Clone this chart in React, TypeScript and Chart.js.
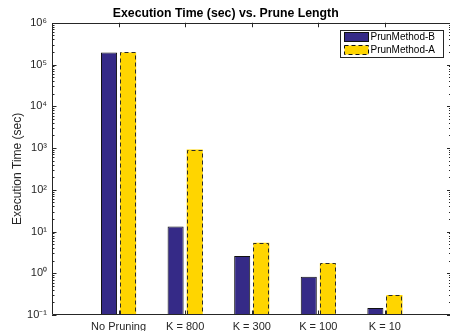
import React, { useEffect, useRef } from 'react';
import { Chart, registerables } from 'chart.js';

Chart.register(...registerables);

const categories = ['No Pruning', 'K = 800', 'K = 300', 'K = 100', 'K = 10'];
const seriesLabels = ['PrunMethod-B', 'PrunMethod-A'];
const methodB = [195000, 13.2, 2.58, 0.82, 0.147];
const methodA = [195000, 920, 5.37, 1.73, 0.3];
const yExponents = [-1, 0, 1, 2, 3, 4, 5, 6];
const titleText = 'Execution Time (sec) vs. Prune Length';
const yAxisTitle = 'Execution Time (sec)';

const colorB = '#352a87';
const colorA = '#ffd500';
const axisColor = '#262626';
const FONT = '"Liberation Sans", Arial, Helvetica, sans-serif';

const SUP: Record<string, string> = {
  '-': '\u207B', '0': '\u2070', '1': '\u00B9', '2': '\u00B2', '3': '\u00B3',
  '4': '\u2074', '5': '\u2075', '6': '\u2076', '7': '\u2077', '8': '\u2078', '9': '\u2079',
};
const supText = (n: number) => String(n).split('').map((c) => SUP[c]).join('');
const isDecade = (v: number) => Math.abs(Math.log10(v) - Math.round(Math.log10(v))) < 1e-9;

const matlabPlugin = {
  id: 'matlabAxes',
  beforeDatasetsDraw(chart: any) {
    const { ctx, chartArea } = chart;
    const { left, right, top, bottom } = chartArea;
    const ys = chart.scales.y;
    const xs = chart.scales.x;
    ctx.save();
    ctx.strokeStyle = axisColor;
    ctx.lineWidth = 1;
    ys.ticks.forEach((t: any) => {
      const py = Math.round(ys.getPixelForValue(t.value)) + 0.5;
      const len = isDecade(t.value) ? 4.5 : 2.5;
      ctx.beginPath();
      ctx.moveTo(left, py);
      ctx.lineTo(left + len, py);
      ctx.moveTo(right, py);
      ctx.lineTo(right - len, py);
      ctx.stroke();
    });
    categories.forEach((_, i) => {
      const px = Math.round(xs.getPixelForValue(i + 1)) + 0.5;
      ctx.beginPath();
      ctx.moveTo(px, top);
      ctx.lineTo(px, top + 4.5);
      ctx.moveTo(px, bottom);
      ctx.lineTo(px, bottom - 4.5);
      ctx.stroke();
    });
    ctx.restore();
  },
  afterDatasetsDraw(chart: any) {
    const { ctx, chartArea } = chart;
    const { left, right, top, bottom } = chartArea;
    ctx.save();
    // dashed outlines for method A bars
    const meta = chart.getDatasetMeta(1);
    ctx.strokeStyle = '#2a2a2a';
    ctx.lineWidth = 1;
    ctx.setLineDash([4, 3]);
    meta.data.forEach((el: any, i: number) => {
      const v = chart.data.datasets[1].data[i];
      if (v == null) return;
      const p = el.getProps(['x', 'y', 'base', 'width'], true);
      const x0 = Math.round(p.x - p.width / 2) + 0.5;
      const x1 = Math.round(p.x + p.width / 2) - 0.5;
      const y0 = Math.round(p.y) + 0.5;
      const y1 = Math.round(p.base) - 0.5;
      ctx.beginPath();
      ctx.moveTo(x0, y1);
      ctx.lineTo(x0, y0);
      ctx.lineTo(x1, y0);
      ctx.lineTo(x1, y1);
      ctx.stroke();
    });
    ctx.setLineDash([]);
    // axes box
    ctx.strokeStyle = axisColor;
    ctx.beginPath();
    const l = Math.round(left) + 0.5;
    const r = Math.round(right) - 0.5;
    const t = Math.round(top) + 0.5;
    const b = Math.round(bottom) - 0.5;
    ctx.rect(l, t, r - l, b - t);
    ctx.stroke();

    // legend
    const bx0 = 340.5, by0 = 30.5, bw = 103, bh = 27;
    ctx.fillStyle = '#ffffff';
    ctx.fillRect(bx0, by0, bw, bh);
    ctx.strokeStyle = axisColor;
    ctx.strokeRect(bx0, by0, bw, bh);
    const rows = [
      { label: chart.data.datasets[0].label, fill: colorB, dash: [] as number[], y: 32.5 },
      { label: chart.data.datasets[1].label, fill: colorA, dash: [4, 3], y: 45.5 },
    ];
    ctx.font = `10px ${FONT}`;
    ctx.textBaseline = 'middle';
    ctx.textAlign = 'left';
    rows.forEach((row) => {
      ctx.fillStyle = row.fill;
      ctx.fillRect(344.5, row.y, 24, 9);
      ctx.setLineDash(row.dash);
      ctx.strokeStyle = '#111';
      ctx.strokeRect(344.5, row.y, 24, 9);
      ctx.setLineDash([]);
      ctx.fillStyle = '#000';
      ctx.fillText(row.label, 370.5, row.y + 5);
    });
    ctx.restore();
  },
};

export default function App() {
  const canvasRef = useRef<HTMLCanvasElement | null>(null);

  useEffect(() => {
    if (!canvasRef.current) return;
    Chart.defaults.font.family = FONT;
    const labels = ['', ...categories, ''];
    const chart = new Chart(canvasRef.current, {
      type: 'bar',
      data: {
        labels,
        datasets: [
          {
            label: seriesLabels[0],
            data: [null, ...methodB, null],
            backgroundColor: colorB,
            borderColor: '#111',
            borderWidth: 1,
            categoryPercentage: 0.574,
            barPercentage: 0.84,
          },
          {
            label: seriesLabels[1],
            data: [null, ...methodA, null],
            backgroundColor: colorA,
            borderWidth: 0,
            categoryPercentage: 0.574,
            barPercentage: 0.84,
          },
        ],
      },
      options: {
        animation: false,
        responsive: true,
        maintainAspectRatio: false,
        layout: { padding: { left: 0, right: 10.5, top: 0, bottom: 14 } },
        plugins: {
          legend: { display: false },
          tooltip: { enabled: false },
          title: {
            display: true,
            text: titleText,
            color: '#000',
            font: { size: 12.3, weight: 'bold', family: FONT },
            padding: { top: 6, bottom: 2 },
          },
        },
        scales: {
          x: {
            type: 'category',
            offset: false,
            grid: { display: false, drawTicks: false },
            border: { display: false },
            ticks: {
              color: axisColor,
              font: { size: 11, family: FONT },
              padding: 5,
              autoSkip: false,
              maxRotation: 0,
              minRotation: 0,
            },
            afterFit(scale: any) {
              scale.height = 16;
            },
          },
          y: {
            type: 'logarithmic',
            min: 0.1,
            max: 1e6,
            grid: { display: false, drawTicks: false },
            border: { display: false },
            title: {
              display: true,
              text: yAxisTitle,
              color: axisColor,
              font: { size: 12, family: FONT },
              padding: { top: 10, bottom: 0 },
            },
            afterBuildTicks(scale: any) {
              const ticks: any[] = [];
              yExponents.forEach((e, i) => {
                const base = Math.pow(10, e);
                ticks.push({ value: base });
                if (i < yExponents.length - 1) {
                  for (let m = 2; m <= 9; m++) ticks.push({ value: m * base });
                }
              });
              scale.ticks = ticks;
            },
            ticks: {
              color: axisColor,
              font: { size: 11, family: FONT },
              padding: 5,
              autoSkip: false,
              callback: (value: any) => {
                const v = Number(value);
                return isDecade(v) ? '10' + supText(Math.round(Math.log10(v))) : '';
              },
            },
            afterFit(scale: any) {
              scale.width = 52;
            },
          },
        },
      },
      plugins: [matlabPlugin],
    } as any);
    return () => chart.destroy();
  }, []);

  return (
    <div
      style={{
        position: 'fixed',
        left: 0,
        top: 0,
        width: 450,
        height: 331,
        overflow: 'hidden',
        background: '#fff',
      }}
    >
      <div style={{ position: 'relative', width: 462, height: 345 }}>
        <canvas ref={canvasRef} />
      </div>
    </div>
  );
}
